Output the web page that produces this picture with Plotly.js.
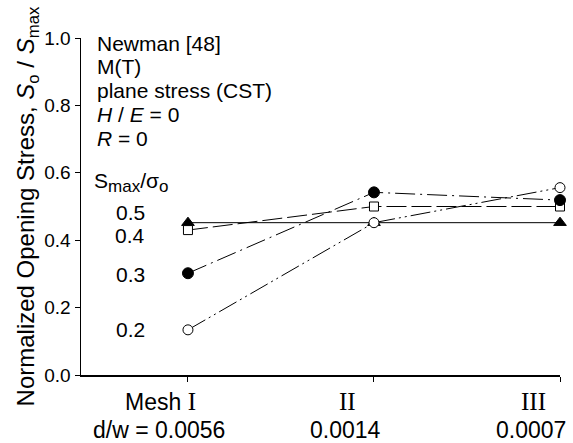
<!DOCTYPE html>
<html><head><meta charset="utf-8">
<script src="https://cdn.plot.ly/plotly-3.0.1.min.js"></script>
<style>html,body{margin:0;padding:0;background:#fff}#c{width:573px;height:443px}</style>
</head><body><div id="c"></div>
<script>
const xPos = [1, 2, 3];
const meshLabels = [
  "Mesh <span style='font-family:Liberation Serif;font-size:25px'>I</span>",
  "<span style='font-family:Liberation Serif;font-size:25px'>II</span>",
  "<span style='font-family:Liberation Serif;font-size:25px'>III</span>"
];
const ratioLabels = ["d/w = 0.0056", "0.0014", "0.0007"];
const seriesNames = ["0.5", "0.4", "0.3", "0.2"];
const s05 = [0.452, 0.452, 0.452];
const s04 = [0.430, 0.500, 0.500];
const s03 = [0.302, 0.542, 0.519];
const s02 = [0.134, 0.452, 0.556];
const labelY = [0.481, 0.415, 0.297, 0.134];

const F = "Liberation Sans, Arial, sans-serif";
function tr(y, dash, sym, fill, size) {
  return {x: xPos, y: y, mode: "lines+markers", showlegend: false, cliponaxis: false,
    line: {color: "black", width: 1, dash: dash},
    marker: {symbol: sym, size: size, color: fill, line: {color: "black", width: 1}}};
}
const data = [
  tr(s05, "solid", "triangle-up", "black", 11),
  tr(s04, "20px,5px", "square", "white", 9),
  tr(s03, "20px,5px,2px,5px", "circle", "black", 11),
  tr(s02, "20px,4px,2px,4px,2px,4px", "circle", "white", 10)
];
const notes = ["Newman [48]", "M(T)", "plane stress (CST)", "<i>H</i> / <i>E</i> = 0", "<i>R</i> = 0"];
const noteY = [0.985, 0.914, 0.843, 0.772, 0.703];
const annotations = notes.map((t, i) => ({
  text: t, xref: "paper", yref: "paper", x: 0.029, y: noteY[i],
  xanchor: "left", yanchor: "middle", showarrow: false, font: {family: F, size: 21, color: "black"}
}));
annotations.push({text: "S<sub><span style='font-size:17px'>max</span></sub>/σ<sub><span style='font-size:17px'>o</span></sub>",
  xref: "paper", yref: "y", x: 0.023, y: 0.57,
  xanchor: "left", yanchor: "middle", showarrow: false, font: {family: F, size: 21, color: "black"}});
seriesNames.forEach((n, i) => annotations.push({text: n, xref: "x", yref: "y", x: 0.69, y: labelY[i],
  xanchor: "center", yanchor: "middle", showarrow: false, font: {family: F, size: 21, color: "black"}}));
// category labels below the x axis, offset left of their ticks as in the reference
xPos.forEach((v, i) => {
  annotations.push({text: meshLabels[i], xref: "x", yref: "paper", x: v - 0.145, y: -0.08,
    xanchor: "center", yanchor: "middle", showarrow: false, font: {family: F, size: 23, color: "black"}});
  annotations.push({text: ratioLabels[i], xref: "x", yref: "paper", x: v - 0.155, y: -0.163,
    xanchor: "center", yanchor: "middle", showarrow: false, font: {family: F, size: 23, color: "black"}});
});

const layout = {
  width: 573, height: 443,
  margin: {l: 81, r: 13, t: 38, b: 68},
  paper_bgcolor: "white", plot_bgcolor: "white",
  font: {family: F, color: "black"},
  xaxis: {range: [0.425, 3], tickvals: xPos, showticklabels: false, showgrid: false, zeroline: false,
    showline: true, linecolor: "black", linewidth: 1.5, ticks: "outside", ticklen: 5, tickcolor: "black"},
  yaxis: {range: [0, 1], dtick: 0.2, tickformat: ".1f", showgrid: false, zeroline: false,
    showline: true, linecolor: "black", linewidth: 1.5, ticks: "outside", ticklen: 5, tickcolor: "black",
    tickfont: {family: F, size: 19, color: "black"},
    title: {text: "Normalized Opening Stress, <i>S</i><sub>o</sub> / <i>S</i><sub>max</sub>",
      font: {family: F, size: 24, color: "black"}, standoff: 3}},
  annotations: annotations
};
Plotly.newPlot("c", data, layout, {displayModeBar: false, staticPlot: true});
</script></body></html>
